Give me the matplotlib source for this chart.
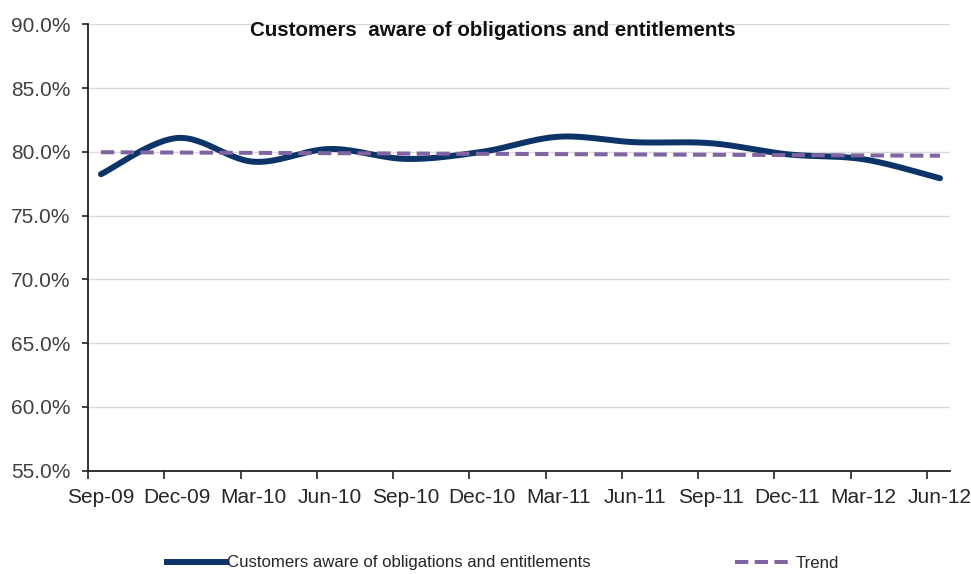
import numpy as np
import matplotlib
matplotlib.use("Agg")
import matplotlib.pyplot as plt
from matplotlib.ticker import FixedLocator, PercentFormatter
from matplotlib.lines import Line2D

plt.rcParams['font.family'] = ['Liberation Sans', 'DejaVu Sans']

quarters = ["Sep-09", "Dec-09", "Mar-10", "Jun-10", "Sep-10", "Dec-10",
            "Mar-11", "Jun-11", "Sep-11", "Dec-11", "Mar-12", "Jun-12"]
aware = [78.24, 81.08, 79.22, 80.22, 79.44, 80.00,
         81.18, 80.75, 80.67, 79.80, 79.41, 77.92]

series_name = "Customers aware of obligations and entitlements"
title = "Customers  aware of obligations and entitlements"

NAVY = "#0c3468"
PURPLE = "#8064a2"


def smooth(xs, ys, steps=30):
    # Excel-style smoothed line: cubic Bezier segments with Catmull-Rom control points
    p = np.column_stack([xs, ys]).astype(float)
    p = np.vstack([p[0], p, p[-1]])
    out = []
    for i in range(1, len(p) - 2):
        p0, p1, p2, p3 = p[i - 1], p[i], p[i + 1], p[i + 2]
        c1 = p1 + (p2 - p0) / 6
        c2 = p2 - (p3 - p1) / 6
        t = np.linspace(0, 1, steps)[:, None]
        seg = ((1 - t) ** 3) * p1 + 3 * ((1 - t) ** 2) * t * c1 + 3 * (1 - t) * t ** 2 * c2 + t ** 3 * p2
        out.append(seg if i == 1 else seg[1:])
    out = np.vstack(out)
    return out[:, 0], out[:, 1]


x = np.arange(len(quarters))
sx, sy = smooth(x, aware)

# linear trend through the quarterly results
slope, icpt = np.polyfit(x, aware, 1)
trend = slope * x + icpt

fig = plt.figure(figsize=(9.71, 5.74), dpi=100)
ax = fig.add_axes([0.0906, 0.1803, 0.8877, 0.7774])

ax.plot(sx, sy, color=NAVY, lw=4.3, solid_capstyle='round', zorder=3)
ax.plot(x, trend, color=PURPLE, lw=2.9, dashes=(3.3, 1.6), dash_capstyle='butt', zorder=4)

ax.set_ylim(55, 90)
ax.set_xlim(-0.17, 11.13)
ax.set_yticks(np.arange(55, 90.1, 5))
ax.yaxis.set_major_formatter(PercentFormatter(decimals=1))
ax.grid(axis='y', color='#dadada', lw=1.0)
ax.set_axisbelow(True)

ax.set_xticks(x)
ax.set_xticklabels(quarters)
ax.xaxis.set_minor_locator(FixedLocator(x - 0.17))
ax.tick_params(axis='x', which='major', length=0, pad=12.5, labelsize=15, colors='#262626')
ax.tick_params(axis='x', which='minor', length=6, width=1.2, direction='out', color='#222222')
ax.tick_params(axis='y', length=4.5, width=1.2, pad=8, labelsize=15, colors='#404040')
ax.tick_params(axis='y', color='#222222')

for side in ('top', 'right'):
    ax.spines[side].set_visible(False)
for side in ('left', 'bottom'):
    ax.spines[side].set_color('#222222')
    ax.spines[side].set_linewidth(1.3)

fig.text(493 / 971, 1 - 30.7 / 574, title, ha='center', va='center',
         fontsize=14.8, fontweight='bold', color='#111111')

handles = [Line2D([], [], color=NAVY, lw=4.3),
           Line2D([], [], color=PURPLE, lw=2.9, dashes=(3.3, 1.6))]
fig.legend(handles, [series_name, "Trend"], loc='center', ncol=2,
           bbox_to_anchor=(503 / 971, 1 - 563 / 574), frameon=False,
           fontsize=12.1, handlelength=3.5, handletextpad=0.1, columnspacing=8.6,
           labelcolor='#262626')

fig.savefig("out.png", dpi=100, facecolor='white')
